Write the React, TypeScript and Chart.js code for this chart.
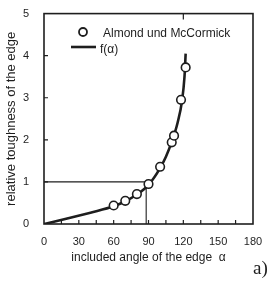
import React, { useEffect, useRef } from "react";
import { Chart, registerables } from "chart.js";

Chart.register(...registerables);

// Measured data (Almond und McCormick)
const measuredAngle = [60, 70, 80, 90, 100, 110, 112, 118, 122];
const measuredToughness = [0.44, 0.55, 0.71, 0.95, 1.36, 1.94, 2.1, 2.95, 3.72];

// Fitted curve f(alpha)
const curveAngle = [0, 20, 40, 60, 70, 80, 90, 100, 105, 110, 115, 119, 121, 122];
const curveToughness = [0, 0.13, 0.27, 0.42, 0.54, 0.7, 0.93, 1.33, 1.6, 1.95, 2.4, 2.95, 3.5, 4.05];

// Reference lines at relative toughness 1
const refAngle = [0, 88, 88];
const refToughness = [1, 1, 0];

const xTicks = [0, 30, 60, 90, 120, 150, 180];
const yTicks = [0, 1, 2, 3, 4, 5];
const xMinorTicks = [15, 30, 45, 60, 75, 90, 105, 120, 135, 150, 165];
const yMinorTicks = [1, 2, 3, 4];

const legendLabels = ["Almond und McCormick", "f(\u03b1)"];
const xTitle = "included angle of the edge  \u03b1";
const yTitle = "relative toughness of the edge";

const INK = "#1e1e1e";
const FONT = "'Liberation Sans', Arial, sans-serif";

const framePlugin = {
  id: "framePlugin",
  afterDatasetsDraw(chart: any) {
    const { ctx, chartArea, scales } = chart;
    const { left, right, top, bottom } = chartArea;
    ctx.save();
    ctx.strokeStyle = INK;
    ctx.lineWidth = 1.6;
    ctx.strokeRect(left, top, right - left, bottom - top);
    ctx.lineWidth = 1.2;
    ctx.beginPath();
    xMinorTicks.forEach((v) => {
      const x = scales.x.getPixelForValue(v);
      ctx.moveTo(x, bottom);
      ctx.lineTo(x, bottom - 4);
    });
    const xt = scales.x.getPixelForValue(120);
    ctx.moveTo(xt, top);
    ctx.lineTo(xt, top + 6);
    yMinorTicks.forEach((v) => {
      const y = scales.y.getPixelForValue(v);
      ctx.moveTo(left, y);
      ctx.lineTo(left + 4, y);
    });
    ctx.stroke();

    // legend
    ctx.fillStyle = INK;
    ctx.font = `12px ${FONT}`;
    ctx.textBaseline = "middle";
    ctx.textAlign = "left";
    ctx.beginPath();
    ctx.lineWidth = 1.8;
    ctx.fillStyle = "#fff";
    ctx.arc(83, 32, 4, 0, Math.PI * 2);
    ctx.fill();
    ctx.stroke();
    ctx.fillStyle = INK;
    ctx.fillText(legendLabels[0], 103, 34);
    ctx.beginPath();
    ctx.lineWidth = 2.6;
    ctx.moveTo(71, 47);
    ctx.lineTo(96, 47);
    ctx.stroke();
    ctx.fillText(legendLabels[1], 100, 50);
    ctx.restore();
  },
};

export default function App() {
  const ref = useRef<HTMLCanvasElement>(null);
  useEffect(() => {
    if (!ref.current) return;
    const chart = new Chart(ref.current, {
      type: "scatter",
      data: {
        datasets: [
          {
            label: legendLabels[0],
            data: measuredAngle.map((x, i) => ({ x, y: measuredToughness[i] })),
            pointRadius: 4.3,
            pointBackgroundColor: "#fff",
            pointBorderColor: INK,
            pointBorderWidth: 1.6,
            showLine: false,
          },
          {
            label: legendLabels[1],
            data: curveAngle.map((x, i) => ({ x, y: curveToughness[i] })),
            showLine: true,
            borderColor: INK,
            borderWidth: 2.6,
            pointRadius: 0,
            cubicInterpolationMode: "monotone",
          },
          {
            label: "ref",
            data: refAngle.map((x, i) => ({ x, y: refToughness[i] })),
            showLine: true,
            borderColor: INK,
            borderWidth: 1.1,
            pointRadius: 0,
            tension: 0,
          },
        ],
      },
      options: {
        animation: false,
        responsive: false,
        maintainAspectRatio: false,
        layout: { padding: { top: 11, right: 25, left: 0, bottom: 0 } },
        plugins: { legend: { display: false }, tooltip: { enabled: false } },
        scales: {
          x: {
            type: "linear",
            min: 0,
            max: 180,
            grid: { display: false },
            border: { display: false },
            afterBuildTicks: (s: any) => {
              s.ticks = xTicks.map((v) => ({ value: v }));
            },
            afterFit: (s: any) => {
              s.height = 62;
            },
            ticks: { color: INK, font: { family: FONT, size: 11 }, padding: 3, maxRotation: 0 },
            title: {
              display: true,
              text: xTitle,
              color: INK,
              font: { family: FONT, size: 12 },
              padding: { top: 2, bottom: 21 },
            },
          },
          y: {
            type: "linear",
            min: 0,
            max: 5,
            grid: { display: false },
            border: { display: false },
            afterBuildTicks: (s: any) => {
              s.ticks = yTicks.map((v) => ({ value: v }));
            },
            afterFit: (s: any) => {
              s.width = 44;
            },
            ticks: { color: INK, font: { family: FONT, size: 11 }, padding: 7 },
            title: {
              display: true,
              text: yTitle,
              color: INK,
              font: { family: FONT, size: 13 },
              padding: { top: 4, bottom: 0 },
            },
          },
        },
      },
      plugins: [framePlugin],
    } as any);
    return () => chart.destroy();
  }, []);
  return (
    <div style={{ position: "fixed", left: 0, top: 0, width: 278, height: 286, background: "#fff" }}>
      <canvas ref={ref} width={278} height={286} style={{ width: 278, height: 286, display: "block" }} />
      <span
        style={{
          position: "absolute",
          left: 253,
          top: 257,
          fontFamily: "'Liberation Serif', 'DejaVu Serif', serif",
          fontSize: 19,
          color: INK,
          lineHeight: "22px",
        }}
      >
        a)
      </span>
    </div>
  );
}
